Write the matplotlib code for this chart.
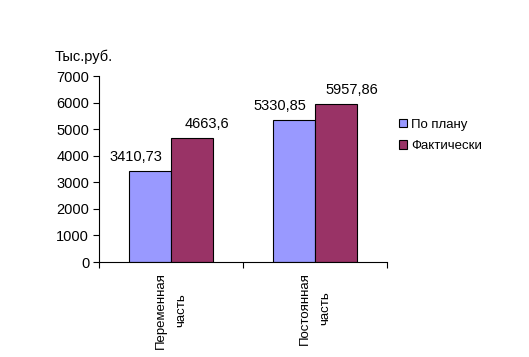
import numpy as np
import matplotlib.pyplot as plt

plt.rcParams['font.family'] = ['Liberation Sans', 'DejaVu Sans']

categories = ["Переменная\nчасть", "Постоянная\nчасть"]
plan = [3410.73, 5330.85]
fact = [4663.6, 5957.86]
labels_plan = ["3410,73", "5330,85"]
labels_fact = ["4663,6", "5957,86"]
series_names = ["По плану", "Фактически"]

fig = plt.figure(figsize=(5.29, 3.57), dpi=100)
ax = fig.add_axes([0.187, 0.266, 0.545, 0.521])

x = np.arange(len(categories)) + 0.5
w = 0.293
b1 = ax.bar(x - w / 2, plan, w, color="#9999FF", edgecolor="black", linewidth=0.8, label=series_names[0])
b2 = ax.bar(x + w / 2, fact, w, color="#993366", edgecolor="black", linewidth=0.8, label=series_names[1])

for rect, txt in zip(b1, labels_plan):
    ax.annotate(txt, (rect.get_x() + rect.get_width() / 2, rect.get_height()),
                xytext=(-10, 5), textcoords="offset points", ha="center", va="bottom", fontsize=10.5)
for rect, txt in zip(b2, labels_fact):
    ax.annotate(txt, (rect.get_x() + rect.get_width() / 2, rect.get_height()),
                xytext=(11, 5), textcoords="offset points", ha="center", va="bottom", fontsize=10.5)

ax.set_xlim(0, 2)
ax.set_ylim(0, 7000)
ax.set_yticks(range(0, 7001, 1000))
ax.tick_params(axis="y", labelsize=10.5, length=4, width=0.8, direction="out", pad=3)
ax.set_xticks([0, 1, 2])
ax.set_xticklabels([])
ax.tick_params(axis="x", length=4, width=0.8, direction="out")
for xc, cat in zip(x, categories):
    ax.text(xc, -380, cat, rotation=90, ha="center", va="top", fontsize=9.5,
            multialignment="center", linespacing=2.0)

for s in ["top", "right"]:
    ax.spines[s].set_visible(False)
ax.spines["left"].set_linewidth(0.8)
ax.spines["bottom"].set_linewidth(0.8)

fig.text(0.104, 0.84, "Тыс.руб.", fontsize=10.5, ha="left", va="center")

ax.legend(loc="center left", bbox_to_anchor=(1.0, 0.68), frameon=False, fontsize=9.5,
          handlelength=0.6, handleheight=0.6, handletextpad=0.3, labelspacing=0.7)

fig.savefig("out.png", dpi=100)
